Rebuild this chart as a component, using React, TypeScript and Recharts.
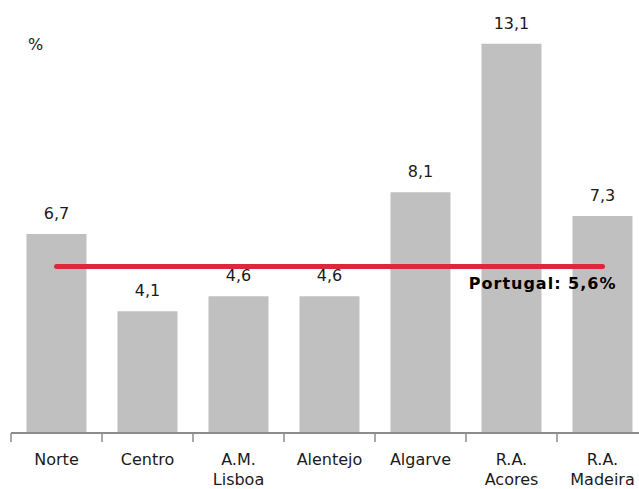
import {
  ComposedChart,
  Bar,
  Line,
  XAxis,
  YAxis,
  LabelList,
} from 'recharts'

const regions = ['Norte', 'Centro', 'A.M. Lisboa', 'Alentejo', 'Algarve', 'R.A. Acores', 'R.A. Madeira']
const rates = [6.7, 4.1, 4.6, 4.6, 8.1, 13.1, 7.3]
const portugal = [5.6, 5.6, 5.6, 5.6, 5.6, 5.6, 5.6]
const portugalLabel = 'Portugal: 5,6%'

const FONT = '"DejaVu Sans", Verdana, sans-serif'

const chartData = regions.map((name, i) => ({
  name,
  value: rates[i],
  pt: portugal[i],
}))

interface TickProps {
  x?: number
  y?: number
  index?: number
  payload?: { value: string; offset?: number }
}

function CategoryTick({ x = 0, y = 0, index = 0, payload }: TickProps) {
  const half = payload?.offset ?? 45.5
  const lines = String(payload?.value ?? '').split(' ')
  return (
    <g>
      <line x1={x - half} x2={x - half} y1={y} y2={y + 9} stroke="#8c8c8c" strokeWidth={1.5} />
      {index === regions.length - 1 && (
        <line x1={x + half} x2={x + half} y1={y} y2={y + 9} stroke="#8c8c8c" strokeWidth={1.5} />
      )}
      <text x={x} y={y} textAnchor="middle" fill="#1a1a1a" fontSize={16} fontFamily={FONT}>
        {lines.map((l, i) => (
          <tspan key={i} x={x} dy={i === 0 ? 32 : 20}>
            {l}
          </tspan>
        ))}
      </text>
    </g>
  )
}

interface PtLabelProps {
  x?: number
  y?: number
  index?: number
}

function PortugalLabel({ x = 0, y = 0, index }: PtLabelProps) {
  if (index !== regions.length - 1) return null
  return (
    <text
      x={Number(x) + 14}
      y={Number(y) + 22}
      textAnchor="end"
      fill="#000"
      fontSize={16}
      fontWeight="bold"
      letterSpacing={1}
      fontFamily={FONT}
    >
      {portugalLabel}
    </text>
  )
}

export default function App() {
  return (
    <div style={{ position: 'absolute', left: 0, top: 0, width: 639, height: 489, overflow: 'hidden', background: '#fff' }}>
      <div style={{ position: 'absolute', left: 28, top: 35, fontSize: 16, fontFamily: FONT, color: '#1a1a1a' }}>%</div>
      <ComposedChart
        width={660}
        height={489}
        data={chartData}
        margin={{ top: 17, right: 12, left: 11, bottom: 6 }}
        barCategoryGap="17%"
      >
        <XAxis
          dataKey="name"
          height={50}
          tickSize={0}
          tickMargin={0}
          tickLine={false}
          axisLine={{ stroke: '#8c8c8c', strokeWidth: 2 }}
          interval={0}
          tick={<CategoryTick />}
        />
        <YAxis hide domain={[0, 14]} />
        <Bar dataKey="value" fill="#c0c0c0" isAnimationActive={false}>
          <LabelList
            dataKey="value"
            position="top"
            offset={15}
            fill="#1a1a1a"
            fontSize={16}
            fontFamily={FONT}
            formatter={(v: number) => String(v).replace('.', ',')}
          />
        </Bar>
        <Line
          dataKey="pt"
          stroke="#e0263a"
          strokeWidth={5}
          strokeLinecap="round"
          dot={false}
          activeDot={false}
          isAnimationActive={false}
        >
          <LabelList dataKey="pt" content={<PortugalLabel />} />
        </Line>
      </ComposedChart>
    </div>
  )
}
